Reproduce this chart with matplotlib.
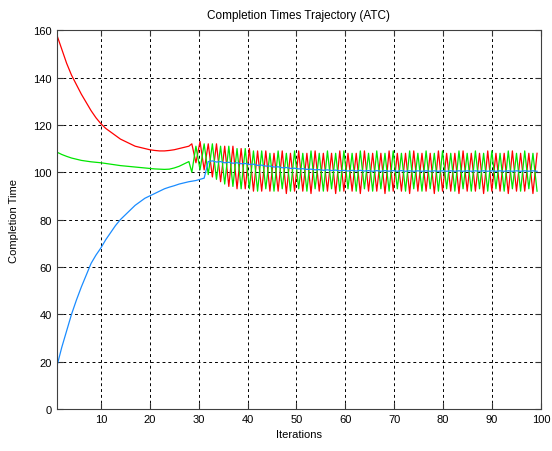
"""
Completion times trajectory (ATC) - three jobs converging to ~100.
"""

import matplotlib.pyplot as plt
import numpy as np

# smooth part, one sample per iteration (1..28)
iters_early = list(range(1, 29))
red_early = [158, 152, 146, 141, 137, 133, 129.5, 126, 123, 120.5,
             118.5, 117, 115.5, 114, 113, 112, 111, 110.5, 110, 109.5,
             109.2, 109, 109, 109.2, 109.5, 110, 110.5, 111]
green_early = [108.5, 107.5, 106.7, 106, 105.5, 105, 104.7, 104.4, 104.2, 104,
               103.7, 103.4, 103.1, 102.8, 102.6, 102.4, 102.2, 102, 101.8, 101.6,
               101.4, 101.3, 101.2, 101.3, 101.8, 102.5, 103.5, 104.5]
blue_early = [18, 26, 33, 40, 46, 51.5, 56.5, 61.5, 65, 68,
              71.5, 74.5, 77.5, 80, 82, 84, 86, 87.5, 89, 90,
              91, 92, 93, 93.7, 94.3, 95, 95.5, 96]

# oscillating part, sampled finer (x from 28.6 to 99.2)
osc_start, osc_end = 28.6, 99.2
red_osc = [112, 104, 113, 101, 112, 98, 112, 96, 111, 94, 111, 93, 110, 93, 110, 92,
           109, 92, 109, 92, 108, 92, 109, 91, 108, 92, 109, 92, 108, 91, 109, 92,
           108, 92, 108, 91, 109, 92, 108, 92, 108, 91, 109, 92, 108, 92, 108, 91,
           109, 92, 108, 92, 108, 91, 109, 92, 108, 92, 108, 91, 109, 92, 108, 92,
           108, 91, 109, 92, 108, 92, 108, 91, 109, 92, 108, 92, 108, 91, 109, 92,
           108, 92, 108, 91, 108]
green_osc = [100, 111, 101, 112, 99, 112, 97, 111, 95, 111, 94, 110, 93, 110, 93, 109,
             92, 109, 93, 108, 92, 109, 93, 108, 92, 109, 93, 108, 92, 109, 93, 108,
             92, 109, 93, 108, 92, 109, 93, 108, 92, 109, 93, 108, 92, 109, 93, 108,
             92, 109, 93, 108, 92, 109, 93, 108, 92, 109, 93, 108, 92, 109, 93, 108,
             92, 109, 93, 108, 92, 109, 93, 108, 92, 109, 93, 108, 92, 109, 93, 108,
             92, 109, 93, 108, 92]
blue_osc = [96.2, 96.5, 97, 97.5, 104.5, 104.8, 104.3, 104.5, 104.0, 104.2,
            103.8, 104.0, 103.6, 103.7, 103.3, 103.4, 102.9, 103.0, 102.6, 102.6,
            102.2, 102.3, 101.9, 102.0, 101.6, 101.7, 101.4, 101.5, 101.2, 101.3,
            101.0, 101.1, 100.8, 101.0, 100.7, 100.9, 100.6, 100.8, 100.5, 100.8,
            100.5, 100.8, 100.5, 100.7, 100.4, 100.7, 100.4, 100.7, 100.4, 100.7,
            100.4, 100.7, 100.4, 100.6, 100.4, 100.6, 100.4, 100.6, 100.4, 100.6,
            100.4, 100.6, 100.4, 100.6, 100.4, 100.6, 100.4, 100.6, 100.4, 100.6,
            100.4, 100.6, 100.4, 100.6, 100.4, 100.6, 100.4, 100.6, 100.4, 100.6,
            100.4, 100.6, 100.4, 100.6, 100.4]

x_osc = np.linspace(osc_start, osc_end, len(red_osc))
x = np.concatenate([iters_early, x_osc])
red = np.concatenate([red_early, red_osc])
green = np.concatenate([green_early, green_osc])
blue = np.concatenate([blue_early, blue_osc])

plt.rcParams["font.family"] = ["Liberation Sans", "DejaVu Sans"]
plt.rcParams["font.size"] = 8

fig = plt.figure(figsize=(5.52, 4.52), dpi=100)
ax = fig.add_axes([0.103, 0.093, 0.877, 0.838])

ax.plot(x, red, color="#ff0000", lw=0.9)
ax.plot(x, green, color="#00e600", lw=0.9)
ax.plot(x, blue, color="#1a8cff", lw=0.9)

ax.set_xlim(1, 100)
ax.set_ylim(0, 160)
ax.set_xticks(range(10, 101, 10))
ax.set_yticks(range(0, 161, 20))
ax.grid(True, color="black", linestyle=(0, (3, 3)), linewidth=0.7)
ax.tick_params(direction="in", top=True, right=True, length=4, colors="#333333",
               labelcolor="black")
for s in ax.spines.values():
    s.set_color("#404040")

ax.set_title("Completion Times Trajectory (ATC)", fontsize=8.5, pad=9)
ax.set_xlabel("Iterations", labelpad=4)
ax.set_ylabel("Completion Time", labelpad=10)

fig.savefig("out.png", dpi=100)
